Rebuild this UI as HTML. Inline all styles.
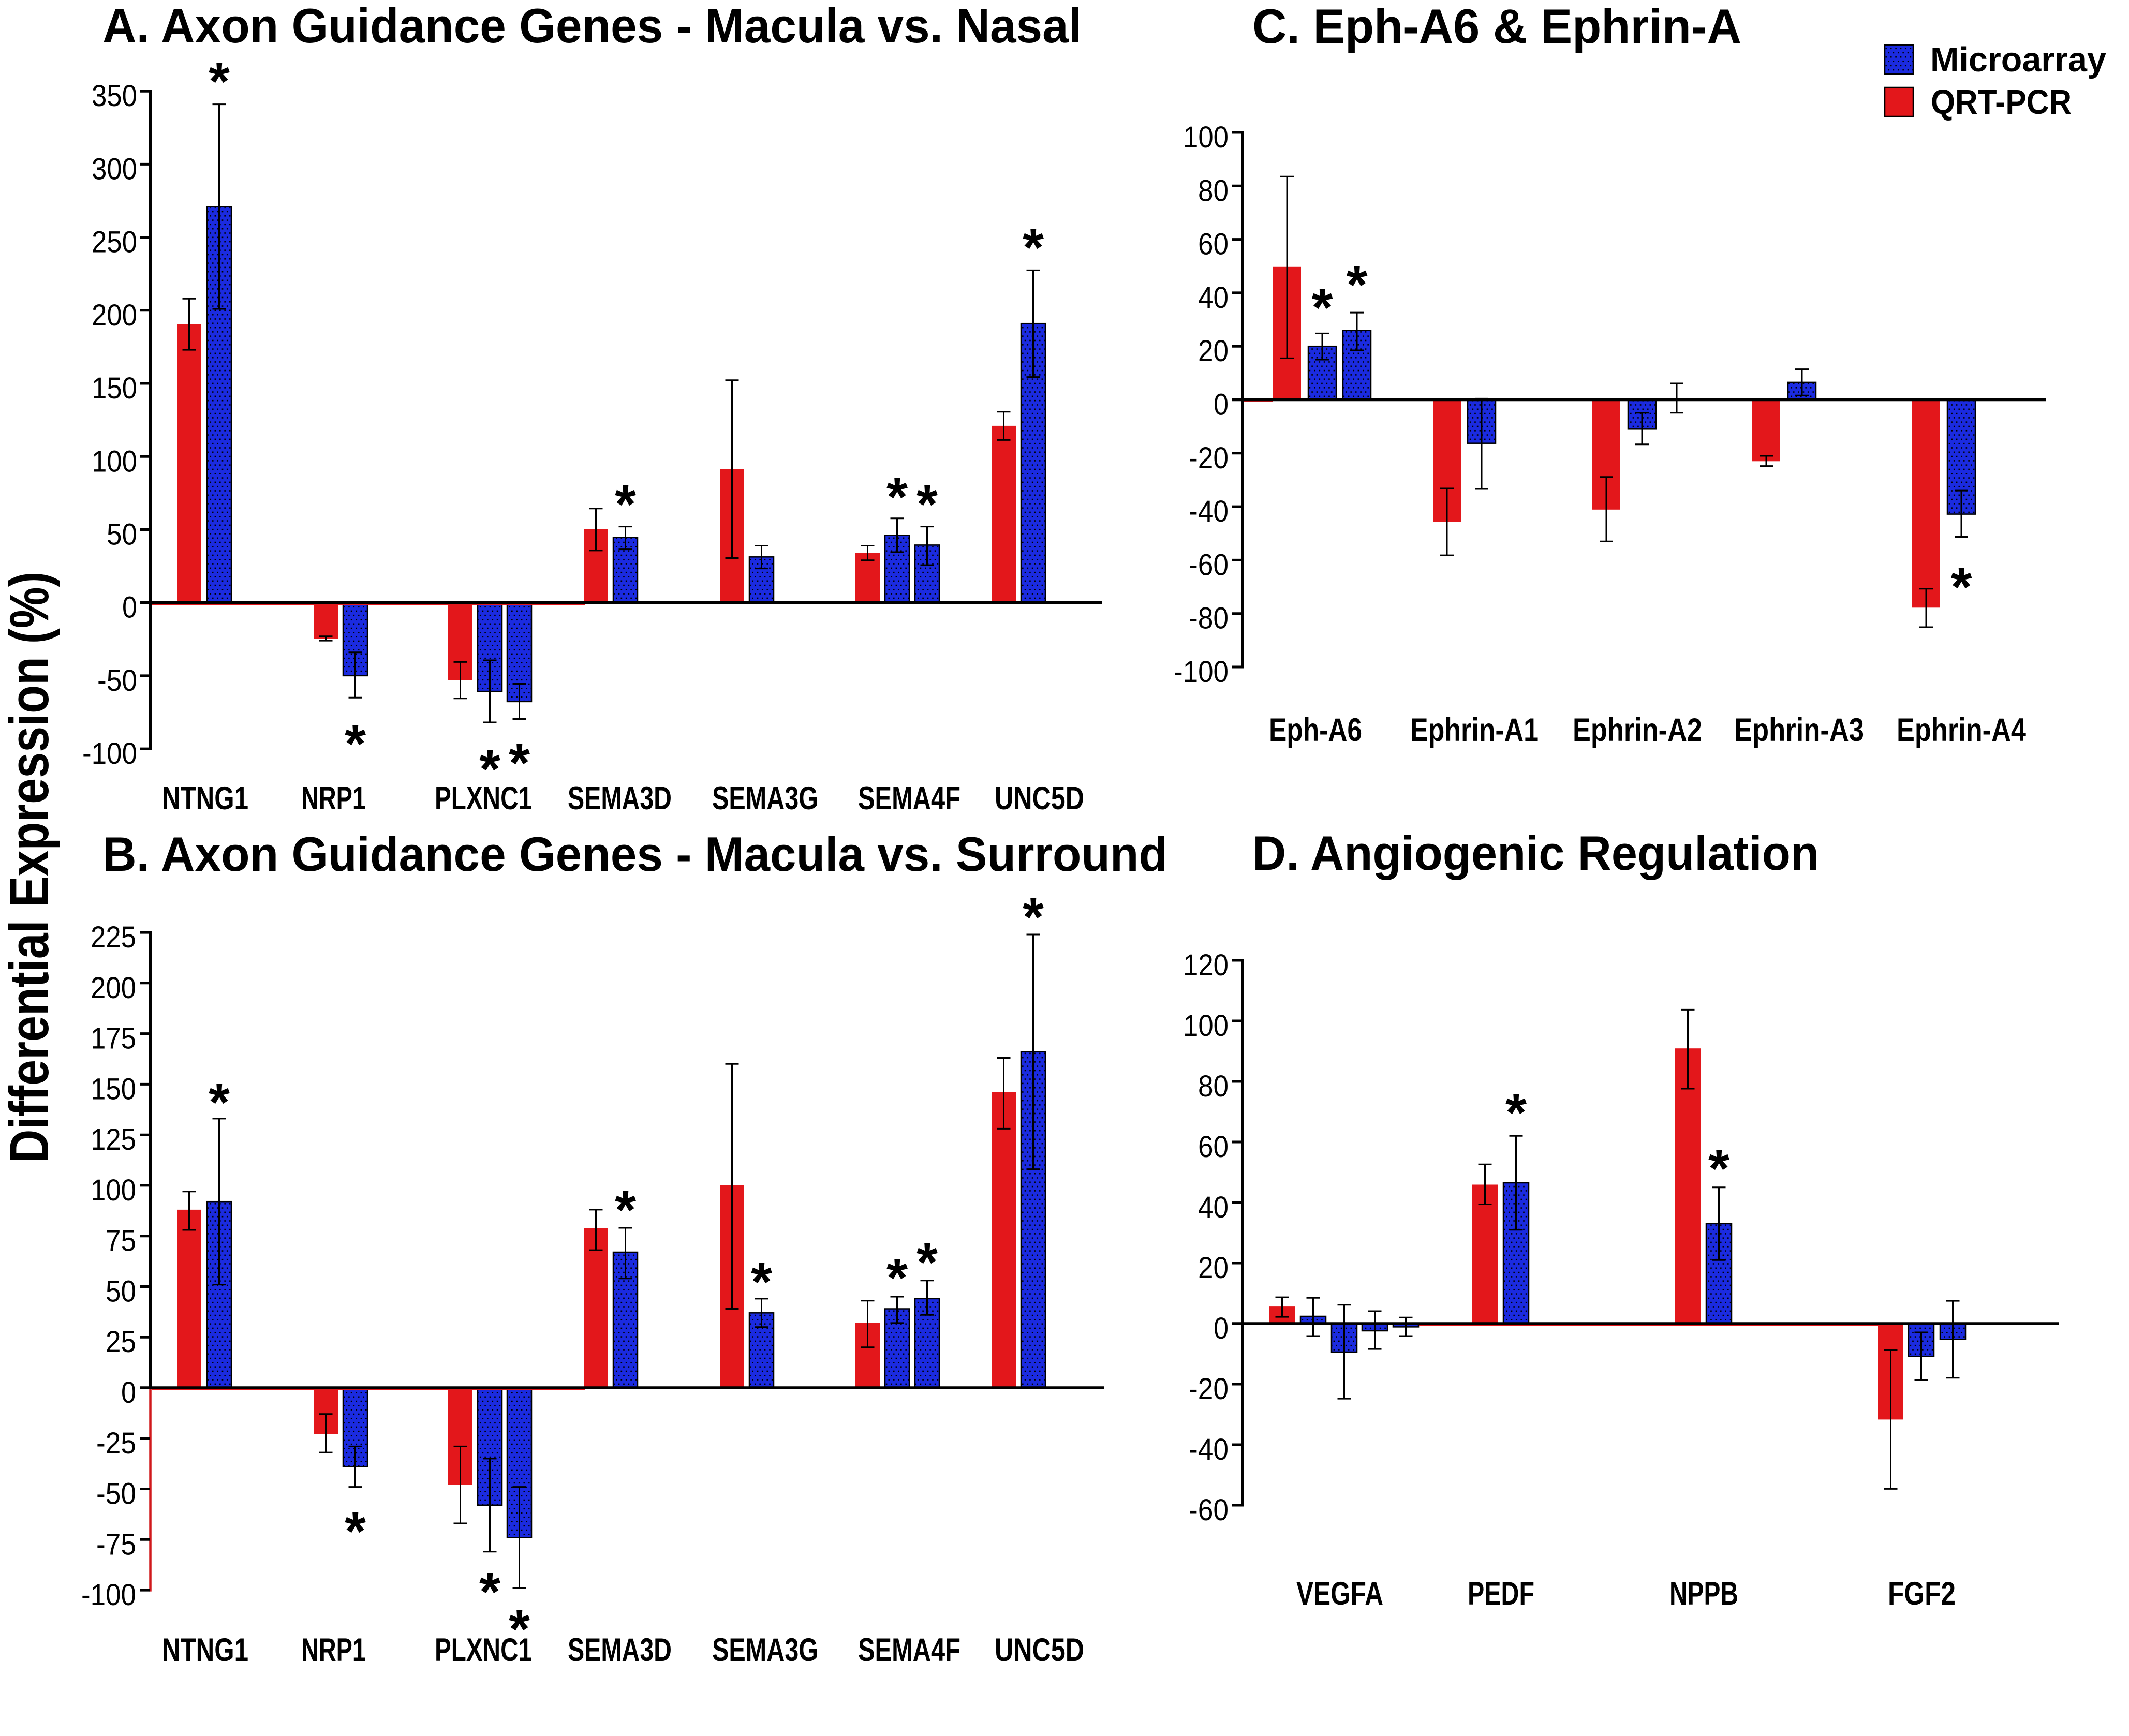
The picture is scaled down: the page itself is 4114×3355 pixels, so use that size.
<!DOCTYPE html>
<html><head><meta charset="utf-8"><style>
html,body{margin:0;padding:0;background:#fff;}
svg{display:block;}
text{font-family:"Liberation Sans",Arial,sans-serif;fill:#000;}
.t{font-size:94px;font-weight:bold;}
.tk{font-size:58px;text-anchor:end;}
.xl{font-size:63px;font-weight:bold;text-anchor:middle;}
.st{font-size:105px;font-weight:bold;text-anchor:middle;}
.lg{font-size:67px;font-weight:bold;}
.r{fill:#e3171b;}
.b{fill:url(#dots);stroke:#000;stroke-width:2.5;}
</style></head><body>
<svg width="4114" height="3355" viewBox="0 0 4114 3355" xmlns="http://www.w3.org/2000/svg">
<defs>
<pattern id="dots" patternUnits="userSpaceOnUse" width="9.4" height="16.6">
<rect width="9.4" height="16.6" fill="#1b2be0"/>
<rect x="1" y="1" width="2.6" height="2.6" fill="#000"/>
<rect x="5.7" y="9.3" width="2.6" height="2.6" fill="#000"/>
</pattern>
</defs>
<rect width="4114" height="3355" fill="#fff"/>

<!-- Titles -->
<text class="t" x="198" y="82" textLength="1892" lengthAdjust="spacingAndGlyphs">A. Axon Guidance Genes - Macula vs. Nasal</text>
<text class="t" x="198" y="1683" textLength="2058" lengthAdjust="spacingAndGlyphs">B. Axon Guidance Genes - Macula vs. Surround</text>
<text class="t" x="2420" y="83" textLength="945" lengthAdjust="spacingAndGlyphs">C. Eph-A6 &amp; Ephrin-A</text>
<text class="t" x="2420" y="1681" textLength="1095" lengthAdjust="spacingAndGlyphs">D. Angiogenic Regulation</text>

<!-- Y axis title -->
<text transform="translate(93,1676) rotate(-90)" text-anchor="middle" font-size="107" font-weight="bold" textLength="1143" lengthAdjust="spacingAndGlyphs">Differential Expression (%)</text>

<!-- Legend -->
<rect x="3642" y="87" width="55" height="56" fill="url(#dots)" stroke="#000" stroke-width="2.5"/>
<rect x="3642" y="169" width="55" height="56" fill="#e3171b" stroke="#000" stroke-width="2.5"/>
<text class="lg" x="3730" y="138" textLength="340" lengthAdjust="spacingAndGlyphs">Microarray</text>
<text class="lg" x="3731" y="220" textLength="272" lengthAdjust="spacingAndGlyphs">QRT-PCR</text>

<!-- ================= PANEL A ================= -->
<g>
<rect class="r" x="342" y="626.7" width="47" height="538"/>
<rect class="b" x="400" y="399.3" width="47" height="765.4"/>
<rect class="r" x="606" y="1164.7" width="47" height="69.5"/>
<rect class="b" x="663" y="1164.7" width="47" height="141.2"/>
<rect class="r" x="866" y="1164.7" width="47" height="149.7"/>
<rect class="b" x="923" y="1164.7" width="47" height="171.4"/>
<rect class="b" x="980" y="1164.7" width="47" height="191.2"/>
<rect class="r" x="1128" y="1022.9" width="47" height="141.8"/>
<rect class="b" x="1185" y="1038.4" width="47" height="126.3"/>
<rect class="r" x="1391" y="906" width="47" height="258.7"/>
<rect class="b" x="1448" y="1076.3" width="47" height="88.4"/>
<rect class="r" x="1653" y="1068.1" width="47" height="96.6"/>
<rect class="b" x="1710" y="1034.5" width="47" height="130.2"/>
<rect class="b" x="1768" y="1053.4" width="47" height="111.3"/>
<rect class="r" x="1916" y="822.9" width="47" height="341.8"/>
<rect class="b" x="1973" y="625.2" width="47" height="539.5"/>
</g>
<path fill="none" stroke="#000" stroke-width="3" d="
M365.5 577.2V676.1M352.5 577.2h26M352.5 676.1h26
M423.5 201.6V597M410.5 201.6h26M410.5 597h26
M629.5 1229.7V1238.1M616.5 1229.7h26M616.5 1238.1h26
M686.5 1260.7V1348.3M673.5 1260.7h26M673.5 1348.3h26
M889.5 1279.4V1349.7M876.5 1279.4h26M876.5 1349.7h26
M946.5 1276V1396M933.5 1276h26M933.5 1396h26
M1003.5 1321.5V1389.5M990.5 1321.5h26M990.5 1389.5h26
M1151.5 982.8V1063.9M1138.5 982.8h26M1138.5 1063.9h26
M1208.5 1017.6V1061.6M1195.5 1017.6h26M1195.5 1061.6h26
M1414.5 734.8V1078.5M1401.5 734.8h26M1401.5 1078.5h26
M1471.5 1054.5V1098.6M1458.5 1054.5h26M1458.5 1098.6h26
M1676.5 1054.5V1082.8M1663.5 1054.5h26M1663.5 1082.8h26
M1733.5 1001.7V1067M1720.5 1001.7h26M1720.5 1067h26
M1791.5 1017.6V1092.1M1778.5 1017.6h26M1778.5 1092.1h26
M1939.5 795.8V850.4M1926.5 795.8h26M1926.5 850.4h26
M1996.5 522.4V728.6M1983.5 522.4h26M1983.5 728.6h26"/>
<line x1="293" y1="1168.5" x2="1130" y2="1168.5" stroke="#e3171b" stroke-width="2.5"/>
<line x1="271" y1="1164.7" x2="2130" y2="1164.7" stroke="#000" stroke-width="5.5"/>
<line x1="290.5" y1="173.7" x2="290.5" y2="1449.6" stroke="#000" stroke-width="5"/>
<path stroke="#000" stroke-width="5" d="M271 176.2H290M271 317.4H290M271 458.6H290M271 599.8H290M271 741H290M271 882.3H290M271 1023.5H290M271 1305.9H290M271 1447.1H290"/>
<text class="tk" x="265" y="205.2" textLength="88" lengthAdjust="spacingAndGlyphs">350</text>
<text class="tk" x="265" y="346.4" textLength="88" lengthAdjust="spacingAndGlyphs">300</text>
<text class="tk" x="265" y="487.6" textLength="88" lengthAdjust="spacingAndGlyphs">250</text>
<text class="tk" x="265" y="628.8" textLength="88" lengthAdjust="spacingAndGlyphs">200</text>
<text class="tk" x="265" y="770" textLength="88" lengthAdjust="spacingAndGlyphs">150</text>
<text class="tk" x="265" y="911.3" textLength="88" lengthAdjust="spacingAndGlyphs">100</text>
<text class="tk" x="265" y="1052.5" textLength="59" lengthAdjust="spacingAndGlyphs">50</text>
<text class="tk" x="265" y="1193.7" textLength="29" lengthAdjust="spacingAndGlyphs">0</text>
<text class="tk" x="265" y="1334.9" textLength="77" lengthAdjust="spacingAndGlyphs">-50</text>
<text class="tk" x="265" y="1476.1" textLength="106" lengthAdjust="spacingAndGlyphs">-100</text>
<text class="xl" x="396.5" y="1564" textLength="167" lengthAdjust="spacingAndGlyphs">NTNG1</text>
<text class="xl" x="644.5" y="1564" textLength="125" lengthAdjust="spacingAndGlyphs">NRP1</text>
<text class="xl" x="934" y="1564" textLength="188" lengthAdjust="spacingAndGlyphs">PLXNC1</text>
<text class="xl" x="1197.5" y="1564" textLength="201" lengthAdjust="spacingAndGlyphs">SEMA3D</text>
<text class="xl" x="1478.5" y="1564" textLength="205" lengthAdjust="spacingAndGlyphs">SEMA3G</text>
<text class="xl" x="1757" y="1564" textLength="198" lengthAdjust="spacingAndGlyphs">SEMA4F</text>
<text class="xl" x="2008.5" y="1564" textLength="173" lengthAdjust="spacingAndGlyphs">UNC5D</text>
<text class="st" x="423.5" y="193">*</text>
<text class="st" x="686.5" y="1473">*</text>
<text class="st" x="946.5" y="1522">*</text>
<text class="st" x="1003.5" y="1510">*</text>
<text class="st" x="1208.5" y="1010">*</text>
<text class="st" x="1733.5" y="996">*</text>
<text class="st" x="1791.5" y="1010">*</text>
<text class="st" x="1996.5" y="514">*</text>

<!-- ================= PANEL B ================= -->
<g>
<rect class="r" x="342" y="2337.9" width="47" height="344.1"/>
<rect class="b" x="400" y="2322.2" width="47" height="359.8"/>
<rect class="r" x="606" y="2682" width="47" height="89.9"/>
<rect class="b" x="663" y="2682" width="47" height="152.5"/>
<rect class="r" x="866" y="2682" width="47" height="187.7"/>
<rect class="b" x="923" y="2682" width="47" height="226.8"/>
<rect class="b" x="980" y="2682" width="47" height="289.4"/>
<rect class="r" x="1128" y="2373" width="47" height="309"/>
<rect class="b" x="1185" y="2420" width="47" height="262"/>
<rect class="r" x="1391" y="2290.9" width="47" height="391.1"/>
<rect class="b" x="1448" y="2537.3" width="47" height="144.7"/>
<rect class="r" x="1653" y="2556.9" width="47" height="125.1"/>
<rect class="b" x="1710" y="2529.5" width="47" height="152.5"/>
<rect class="b" x="1768" y="2509.9" width="47" height="172.1"/>
<rect class="r" x="1916" y="2111" width="47" height="571"/>
<rect class="b" x="1973" y="2032.8" width="47" height="649.2"/>
</g>
<path fill="none" stroke="#000" stroke-width="3" d="
M365.5 2302.7V2377M352.5 2302.7h26M352.5 2377h26
M423.5 2161.9V2482.6M410.5 2161.9h26M410.5 2482.6h26
M629.5 2732.8V2807.1M616.5 2732.8h26M616.5 2807.1h26
M686.5 2795.4V2873.6M673.5 2795.4h26M673.5 2873.6h26
M889.5 2795.4V2944M876.5 2795.4h26M876.5 2944h26
M946.5 2818.9V2998.8M933.5 2818.9h26M933.5 2998.8h26
M1003.5 2873.6V3069.2M990.5 2873.6h26M990.5 3069.2h26
M1151.5 2337.9V2416.1M1138.5 2337.9h26M1138.5 2416.1h26
M1208.5 2373V2470.8M1195.5 2373h26M1195.5 2470.8h26
M1414.5 2056.3V2529.5M1401.5 2056.3h26M1401.5 2529.5h26
M1471.5 2509.9V2564.7M1458.5 2509.9h26M1458.5 2564.7h26
M1676.5 2513.8V2603.8M1663.5 2513.8h26M1663.5 2603.8h26
M1733.5 2506V2556.9M1720.5 2506h26M1720.5 2556.9h26
M1791.5 2474.7V2541.2M1778.5 2474.7h26M1778.5 2541.2h26
M1939.5 2044.5V2181.4M1926.5 2044.5h26M1926.5 2181.4h26
M1996.5 1806V2259.6M1983.5 1806h26M1983.5 2259.6h26"/>
<line x1="293" y1="2685.8" x2="1130" y2="2685.8" stroke="#e3171b" stroke-width="2.5"/>
<line x1="271" y1="2682" x2="2133" y2="2682" stroke="#000" stroke-width="5.5"/>
<line x1="290.5" y1="1799.6" x2="290.5" y2="2684" stroke="#000" stroke-width="5"/>
<line x1="290.5" y1="2684" x2="290.5" y2="3075.6" stroke="#d0181c" stroke-width="4.5"/>
<path stroke="#000" stroke-width="5" d="M271 1802.1H290M271 1899.8H290M271 1997.6H290M271 2095.4H290M271 2193.2H290M271 2290.9H290M271 2388.7H290M271 2486.5H290M271 2584.2H290M271 2779.8H290M271 2877.5H290M271 2975.3H290M271 3073.1H290"/>
<text class="tk" x="263" y="1831.1" textLength="88" lengthAdjust="spacingAndGlyphs">225</text>
<text class="tk" x="263" y="1928.8" textLength="88" lengthAdjust="spacingAndGlyphs">200</text>
<text class="tk" x="263" y="2026.6" textLength="88" lengthAdjust="spacingAndGlyphs">175</text>
<text class="tk" x="263" y="2124.4" textLength="88" lengthAdjust="spacingAndGlyphs">150</text>
<text class="tk" x="263" y="2222.2" textLength="88" lengthAdjust="spacingAndGlyphs">125</text>
<text class="tk" x="263" y="2319.9" textLength="88" lengthAdjust="spacingAndGlyphs">100</text>
<text class="tk" x="263" y="2417.7" textLength="59" lengthAdjust="spacingAndGlyphs">75</text>
<text class="tk" x="263" y="2515.5" textLength="59" lengthAdjust="spacingAndGlyphs">50</text>
<text class="tk" x="263" y="2613.2" textLength="59" lengthAdjust="spacingAndGlyphs">25</text>
<text class="tk" x="263" y="2711" textLength="29" lengthAdjust="spacingAndGlyphs">0</text>
<text class="tk" x="263" y="2808.8" textLength="77" lengthAdjust="spacingAndGlyphs">-25</text>
<text class="tk" x="263" y="2906.5" textLength="77" lengthAdjust="spacingAndGlyphs">-50</text>
<text class="tk" x="263" y="3004.3" textLength="77" lengthAdjust="spacingAndGlyphs">-75</text>
<text class="tk" x="263" y="3102.1" textLength="106" lengthAdjust="spacingAndGlyphs">-100</text>
<text class="xl" x="396.5" y="3210" textLength="167" lengthAdjust="spacingAndGlyphs">NTNG1</text>
<text class="xl" x="644.5" y="3210" textLength="125" lengthAdjust="spacingAndGlyphs">NRP1</text>
<text class="xl" x="934" y="3210" textLength="188" lengthAdjust="spacingAndGlyphs">PLXNC1</text>
<text class="xl" x="1197.5" y="3210" textLength="201" lengthAdjust="spacingAndGlyphs">SEMA3D</text>
<text class="xl" x="1478.5" y="3210" textLength="205" lengthAdjust="spacingAndGlyphs">SEMA3G</text>
<text class="xl" x="1757" y="3210" textLength="198" lengthAdjust="spacingAndGlyphs">SEMA4F</text>
<text class="xl" x="2008.5" y="3210" textLength="173" lengthAdjust="spacingAndGlyphs">UNC5D</text>
<text class="st" x="423.5" y="2166">*</text>
<text class="st" x="686.5" y="2995">*</text>
<text class="st" x="946.5" y="3112">*</text>
<text class="st" x="1003.5" y="3184">*</text>
<text class="st" x="1208.5" y="2374">*</text>
<text class="st" x="1471.5" y="2513">*</text>
<text class="st" x="1733.5" y="2505">*</text>
<text class="st" x="1791.5" y="2475">*</text>
<text class="st" x="1996.5" y="1808">*</text>

<!-- ================= PANEL C ================= -->
<g>
<rect class="r" x="2460" y="515.8" width="54" height="256.7"/>
<rect class="b" x="2528" y="669.2" width="54" height="103.3"/>
<rect class="b" x="2595" y="638.7" width="54" height="133.8"/>
<rect class="r" x="2769" y="772.5" width="54" height="235.5"/>
<rect class="b" x="2836" y="772.5" width="54" height="84.2"/>
<rect class="r" x="3077" y="772.5" width="54" height="212.3"/>
<rect class="b" x="3146" y="772.5" width="54" height="56.8"/>
<rect class="b" x="3213" y="770.4" width="54" height="2.1"/>
<rect class="r" x="3386" y="772.5" width="54" height="118.8"/>
<rect class="b" x="3455" y="738.9" width="54" height="33.6"/>
<rect class="r" x="3695" y="772.5" width="54" height="401.8"/>
<rect class="b" x="3763" y="772.5" width="54" height="221.1"/>
</g>
<path fill="none" stroke="#000" stroke-width="3" d="
M2487 341.2V692.4M2474 341.2h26M2474 692.4h26
M2555 644.4V695M2542 644.4h26M2542 695h26
M2622 604.1V677M2609 604.1h26M2609 677h26
M2796 944V1073.1M2783 944h26M2783 1073.1h26
M2863 770.4V945M2850 770.4h26M2850 945h26
M3104 921.8V1046.2M3091 921.8h26M3091 1046.2h26
M3173 797.8V858.8M3160 797.8h26M3160 858.8h26
M3240 741V797.8M3227 741h26M3227 797.8h26
M3413 881V900.6M3400 881h26M3400 900.6h26
M3482 713.6V764.2M3469 713.6h26M3469 764.2h26
M3722 1137.7V1212M3709 1137.7h26M3709 1212h26
M3790 948.1V1037.5M3777 948.1h26M3777 1037.5h26"/>
<line x1="2403" y1="775.5" x2="2460" y2="775.5" stroke="#e3171b" stroke-width="2.5"/>
<line x1="2381" y1="772.5" x2="3954" y2="772.5" stroke="#000" stroke-width="5.5"/>
<line x1="2400.5" y1="253.5" x2="2400.5" y2="1291.5" stroke="#000" stroke-width="5"/>
<path stroke="#000" stroke-width="5" d="M2381 256H2400M2381 359.3H2400M2381 462.6H2400M2381 565.9H2400M2381 669.2H2400M2381 875.8H2400M2381 979.1H2400M2381 1082.4H2400M2381 1185.7H2400M2381 1289H2400"/>
<text class="tk" x="2374" y="285" textLength="88" lengthAdjust="spacingAndGlyphs">100</text>
<text class="tk" x="2374" y="388.3" textLength="59" lengthAdjust="spacingAndGlyphs">80</text>
<text class="tk" x="2374" y="491.6" textLength="59" lengthAdjust="spacingAndGlyphs">60</text>
<text class="tk" x="2374" y="594.9" textLength="59" lengthAdjust="spacingAndGlyphs">40</text>
<text class="tk" x="2374" y="698.2" textLength="59" lengthAdjust="spacingAndGlyphs">20</text>
<text class="tk" x="2374" y="801.5" textLength="29" lengthAdjust="spacingAndGlyphs">0</text>
<text class="tk" x="2374" y="904.8" textLength="77" lengthAdjust="spacingAndGlyphs">-20</text>
<text class="tk" x="2374" y="1008.1" textLength="77" lengthAdjust="spacingAndGlyphs">-40</text>
<text class="tk" x="2374" y="1111.4" textLength="77" lengthAdjust="spacingAndGlyphs">-60</text>
<text class="tk" x="2374" y="1214.7" textLength="77" lengthAdjust="spacingAndGlyphs">-80</text>
<text class="tk" x="2374" y="1318" textLength="106" lengthAdjust="spacingAndGlyphs">-100</text>
<text class="xl" x="2542" y="1432" textLength="180" lengthAdjust="spacingAndGlyphs">Eph-A6</text>
<text class="xl" x="2849" y="1432" textLength="248" lengthAdjust="spacingAndGlyphs">Ephrin-A1</text>
<text class="xl" x="3164" y="1432" textLength="250" lengthAdjust="spacingAndGlyphs">Ephrin-A2</text>
<text class="xl" x="3476.5" y="1432" textLength="251" lengthAdjust="spacingAndGlyphs">Ephrin-A3</text>
<text class="xl" x="3790" y="1432" textLength="250" lengthAdjust="spacingAndGlyphs">Ephrin-A4</text>
<text class="st" x="2555" y="630">*</text>
<text class="st" x="2622" y="586">*</text>
<text class="st" x="3790" y="1170">*</text>

<!-- ================= PANEL D ================= -->
<g>
<rect class="r" x="2453" y="2524.1" width="49" height="33.9"/>
<rect class="b" x="2513" y="2544" width="49" height="14"/>
<rect class="b" x="2573" y="2558" width="49" height="55"/>
<rect class="b" x="2632" y="2558" width="49" height="14"/>
<rect class="b" x="2692" y="2558" width="49" height="6.4"/>
<rect class="r" x="2845" y="2289.5" width="49" height="268.5"/>
<rect class="b" x="2905" y="2286" width="49" height="272"/>
<rect class="r" x="3237" y="2026.2" width="49" height="531.8"/>
<rect class="b" x="3297" y="2364.9" width="49" height="193.1"/>
<rect class="r" x="3629" y="2558" width="49" height="185.4"/>
<rect class="b" x="3688" y="2558" width="49" height="63.2"/>
<rect class="b" x="3749" y="2558" width="49" height="30.4"/>
</g>
<path fill="none" stroke="#000" stroke-width="3" d="
M2477.5 2507.1V2545.1M2464.5 2507.1h26M2464.5 2545.1h26
M2537.5 2508.3V2582M2524.5 2508.3h26M2524.5 2582h26
M2597.5 2521.7V2703.1M2584.5 2521.7h26M2584.5 2703.1h26
M2656.5 2534V2607.1M2643.5 2534h26M2643.5 2607.1h26
M2716.5 2546.3V2582M2703.5 2546.3h26M2703.5 2582h26
M2869.5 2250.3V2327.5M2856.5 2250.3h26M2856.5 2327.5h26
M2929.5 2195.3V2376.7M2916.5 2195.3h26M2916.5 2376.7h26
M3261.5 1951.4V2104M3248.5 1951.4h26M3248.5 2104h26
M3321.5 2294.8V2435.2M3308.5 2294.8h26M3308.5 2435.2h26
M3653.5 2609.5V2877.4M3640.5 2609.5h26M3640.5 2877.4h26
M3712.5 2575V2666.8M3699.5 2575h26M3699.5 2666.8h26
M3773.5 2514.1V2662.7M3760.5 2514.1h26M3760.5 2662.7h26"/>
<line x1="2742" y1="2561.5" x2="3630" y2="2561.5" stroke="#e3171b" stroke-width="2.5"/>
<line x1="2381" y1="2558" x2="3978" y2="2558" stroke="#000" stroke-width="5.5"/>
<line x1="2400.5" y1="1853.5" x2="2400.5" y2="2911.5" stroke="#000" stroke-width="5"/>
<path stroke="#000" stroke-width="5" d="M2381 1856H2400M2381 1973H2400M2381 2090H2400M2381 2207H2400M2381 2324H2400M2381 2441H2400M2381 2675H2400M2381 2792H2400M2381 2909H2400"/>
<text class="tk" x="2374" y="1885" textLength="88" lengthAdjust="spacingAndGlyphs">120</text>
<text class="tk" x="2374" y="2002" textLength="88" lengthAdjust="spacingAndGlyphs">100</text>
<text class="tk" x="2374" y="2119" textLength="59" lengthAdjust="spacingAndGlyphs">80</text>
<text class="tk" x="2374" y="2236" textLength="59" lengthAdjust="spacingAndGlyphs">60</text>
<text class="tk" x="2374" y="2353" textLength="59" lengthAdjust="spacingAndGlyphs">40</text>
<text class="tk" x="2374" y="2470" textLength="59" lengthAdjust="spacingAndGlyphs">20</text>
<text class="tk" x="2374" y="2587" textLength="29" lengthAdjust="spacingAndGlyphs">0</text>
<text class="tk" x="2374" y="2704" textLength="77" lengthAdjust="spacingAndGlyphs">-20</text>
<text class="tk" x="2374" y="2821" textLength="77" lengthAdjust="spacingAndGlyphs">-40</text>
<text class="tk" x="2374" y="2938" textLength="77" lengthAdjust="spacingAndGlyphs">-60</text>
<text class="xl" x="2589" y="3101" textLength="168" lengthAdjust="spacingAndGlyphs">VEGFA</text>
<text class="xl" x="2900.5" y="3101" textLength="129" lengthAdjust="spacingAndGlyphs">PEDF</text>
<text class="xl" x="3292.5" y="3101" textLength="133" lengthAdjust="spacingAndGlyphs">NPPB</text>
<text class="xl" x="3713.5" y="3101" textLength="131" lengthAdjust="spacingAndGlyphs">FGF2</text>
<text class="st" x="2929.5" y="2186">*</text>
<text class="st" x="3321.5" y="2294">*</text>
</svg>
</body></html>
